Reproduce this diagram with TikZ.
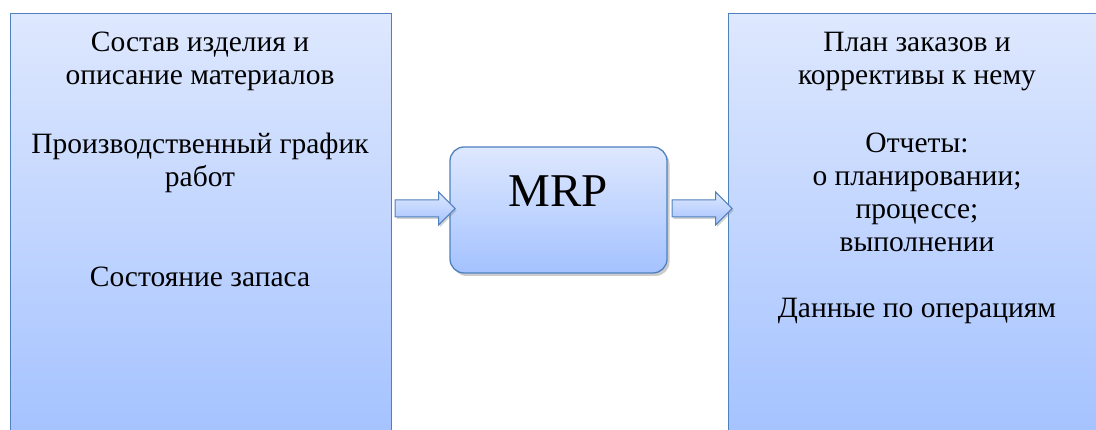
\documentclass[tikz,border=0pt]{standalone}
\usepackage{fontspec}
\setmainfont{Liberation Serif}
\usetikzlibrary{calc,shapes.arrows,shadows}

\definecolor{mrpline}{RGB}{79,129,189}
\definecolor{mrptop}{RGB}{222,232,254}
\definecolor{mrpbottom}{RGB}{164,194,255}

\begin{document}
\begin{tikzpicture}[x=1pt,y=1pt,
    panel/.style={draw=mrpline, line width=1.3pt, top color=mrptop, bottom color=mrpbottom,
                  minimum width=381pt, minimum height=427pt, anchor=north west, inner sep=0pt},
    txt/.style={align=center, anchor=base, inner sep=0pt,
                font=\fontsize{29.5}{33}\selectfont},
    bigarrow/.style={single arrow, draw=mrpline, line width=1pt, top color=mrptop, bottom color=mrpbottom,
                     inner xsep=0pt, inner ysep=8pt, single arrow head extend=8pt,
                     minimum height=60pt, drop shadow={shadow xshift=1.5pt, shadow yshift=-2pt, opacity=.35}}]
    \useasboundingbox (0,0) rectangle (1096,430);
    % input and output panels
    \node[panel] (inbox) at (10,417) {};
    \node[panel] (outbox) at (728,417) {};
    \node[txt] (spec) at (200,345) {Состав изделия и\\описание материалов};
    \node[txt] (sched) at (200,243) {Производственный график\\работ};
    \node[txt] (stock) at (200,143) {Состояние запаса};
    \node[txt] (orders) at (917,345) {План заказов и\\коррективы к нему};
    \node[txt] (reports) at (917,178) {Отчеты:\\о планировании;\\процессе;\\выполнении};
    \node[txt] (opdata) at (917,112) {Данные по операциям};
    % MRP block
    \node[draw=mrpline, line width=1.3pt, rounded corners=14pt, top color=mrptop, bottom color=mrpbottom,
          minimum width=217pt, minimum height=126pt,
          drop shadow={shadow xshift=2.5pt, shadow yshift=-3pt, opacity=.4}] (mrp) at (558.5,220) {};
    \node[txt, font=\fontsize{47}{50}\selectfont] (mrplabel) at ([yshift=-60pt]mrp.north) {MRP};
    % arrows
    \node[bigarrow] (in2mrp) at ($(inbox.east |- mrp.west)!0.5!(mrp.west) + (0,1.5)$) {};
    \node[bigarrow] (mrp2out) at ($(mrp.east)!0.5!(outbox.west |- mrp.east) + (0,1.5)$) {};
\end{tikzpicture}
\end{document}
